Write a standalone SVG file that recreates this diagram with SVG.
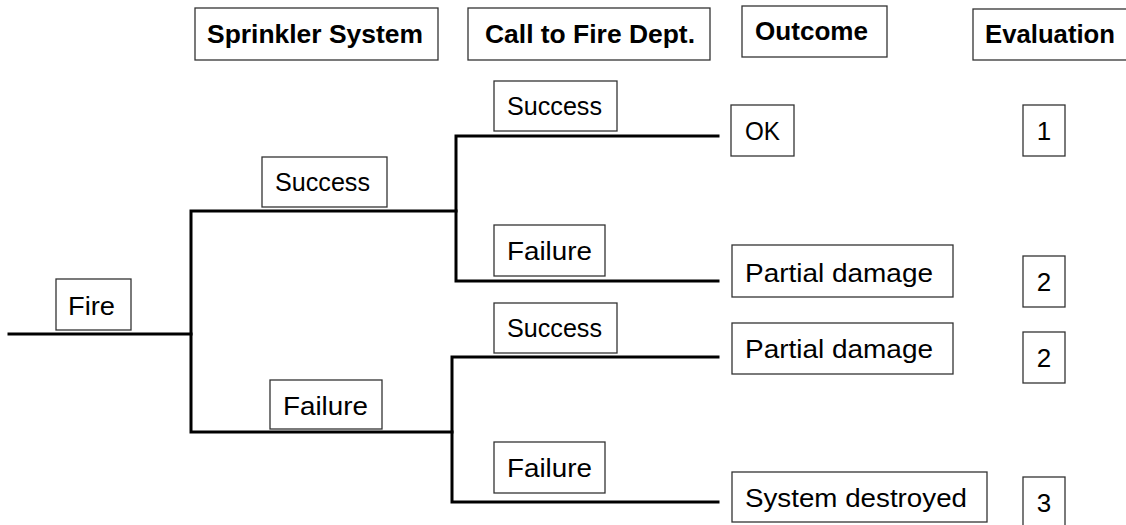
<svg xmlns="http://www.w3.org/2000/svg" width="1126" height="525" viewBox="0 0 1126 525">
<style>
.box{fill:#fff;stroke:#333;stroke-width:1.3}
.t{font-family:"Liberation Sans",Arial,sans-serif;font-size:26px;fill:#000}
.b{font-weight:bold}
.ln{stroke:#000;stroke-width:3;fill:none;stroke-linecap:square}
</style>
<rect width="1126" height="525" fill="#fff"/>
<g id="connectors">
<path class="ln" d="M9,334 H191"/>
<path class="ln" d="M456,211 H191 V432 H452"/>
<path class="ln" d="M718,136 H456 V281 H718"/>
<path class="ln" d="M718,357 H452 V502 H718"/>
</g>
<g id="hdr-sprinkler"><rect class="box" x="195" y="8" width="243" height="52"/><text class="t b" x="207" y="43" textLength="216" lengthAdjust="spacingAndGlyphs">Sprinkler System</text></g>
<g id="hdr-call"><rect class="box" x="468" y="8" width="242" height="52"/><text class="t b" x="485" y="43" textLength="210" lengthAdjust="spacingAndGlyphs">Call to Fire Dept.</text></g>
<g id="hdr-outcome"><rect class="box" x="742" y="6" width="145" height="51"/><text class="t b" x="755" y="40" textLength="113" lengthAdjust="spacingAndGlyphs">Outcome</text></g>
<g id="hdr-eval"><rect class="box" x="973" y="9" width="170" height="51"/><text class="t b" x="985" y="43" textLength="130" lengthAdjust="spacingAndGlyphs">Evaluation</text></g>
<g id="fire"><rect class="box" x="56" y="279" width="75" height="51"/><text class="t" x="68" y="315" textLength="47" lengthAdjust="spacingAndGlyphs">Fire</text></g>
<g id="s-success"><rect class="box" x="262" y="157" width="125" height="50"/><text class="t" x="275" y="191" textLength="95" lengthAdjust="spacingAndGlyphs">Success</text></g>
<g id="s-failure"><rect class="box" x="270" y="380" width="112" height="49"/><text class="t" x="283" y="415" textLength="85" lengthAdjust="spacingAndGlyphs">Failure</text></g>
<g id="c1-success"><rect class="box" x="494" y="81" width="123" height="50"/><text class="t" x="507" y="115" textLength="95" lengthAdjust="spacingAndGlyphs">Success</text></g>
<g id="c1-failure"><rect class="box" x="494" y="225" width="111" height="51"/><text class="t" x="507" y="260" textLength="85" lengthAdjust="spacingAndGlyphs">Failure</text></g>
<g id="c2-success"><rect class="box" x="494" y="303" width="123" height="50"/><text class="t" x="507" y="337" textLength="95" lengthAdjust="spacingAndGlyphs">Success</text></g>
<g id="c2-failure"><rect class="box" x="494" y="442" width="111" height="51"/><text class="t" x="507" y="477" textLength="85" lengthAdjust="spacingAndGlyphs">Failure</text></g>
<g id="o-ok"><rect class="box" x="731" y="105" width="63" height="51"/><text class="t" x="745" y="140" textLength="35" lengthAdjust="spacingAndGlyphs">OK</text></g>
<g id="o-pd1"><rect class="box" x="732" y="245" width="221" height="52"/><text class="t" x="745" y="282" textLength="188" lengthAdjust="spacingAndGlyphs">Partial damage</text></g>
<g id="o-pd2"><rect class="box" x="732" y="323" width="221" height="51"/><text class="t" x="745" y="358" textLength="188" lengthAdjust="spacingAndGlyphs">Partial damage</text></g>
<g id="o-sd"><rect class="box" x="732" y="472" width="255" height="50"/><text class="t" x="745" y="507" textLength="222" lengthAdjust="spacingAndGlyphs">System destroyed</text></g>
<g id="e1"><rect class="box" x="1023" y="105" width="42" height="51"/><text class="t" x="1044" y="140" text-anchor="middle">1</text></g>
<g id="e2"><rect class="box" x="1023" y="256" width="42" height="51"/><text class="t" x="1044" y="291" text-anchor="middle">2</text></g>
<g id="e3"><rect class="box" x="1023" y="332" width="42" height="51"/><text class="t" x="1044" y="367" text-anchor="middle">2</text></g>
<g id="e4"><rect class="box" x="1023" y="477" width="42" height="51"/><text class="t" x="1044" y="512" text-anchor="middle">3</text></g>
</svg>
